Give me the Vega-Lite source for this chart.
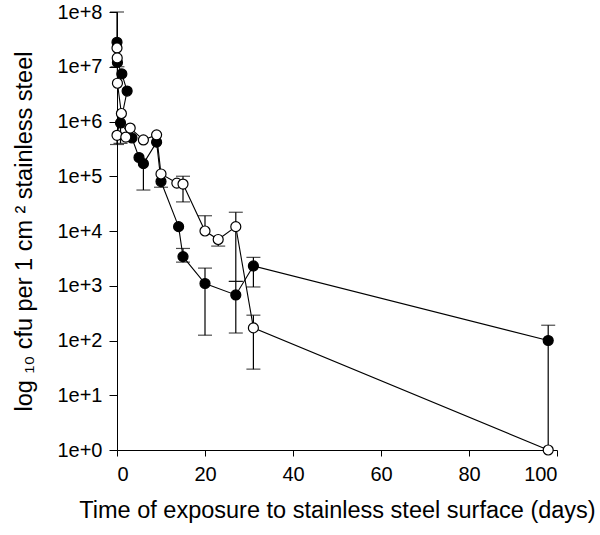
{
  "$schema": "https://vega.github.io/schema/vega-lite/v6.json",
  "autosize": {"type": "none"},
  "padding": {"left": 117, "top": 12, "right": 43, "bottom": 85},
  "width": 440,
  "height": 438,
  "background": "white",
  "config": {
    "font": "Liberation Sans",
    "view": {"stroke": null},
    "axis": {
      "grid": false,
      "domainColor": "black",
      "tickColor": "black",
      "labelColor": "black",
      "titleColor": "black",
      "labelFontSize": 20,
      "titleFontSize": 23.5,
      "titleFontWeight": "normal",
      "labelFont": "Liberation Sans",
      "titleFont": "Liberation Sans"
    }
  },
  "data": {
    "values": [
      {"s": "filled", "seq": 1, "d": 0, "v": 28000000, "hi": 100000000},
      {"s": "filled", "seq": 2, "d": 0.1, "v": 12000000, "lo": 10000000},
      {"s": "filled", "seq": 3, "d": 1.1, "v": 7400000},
      {"s": "filled", "seq": 4, "d": 2.3, "v": 3600000},
      {"s": "filled", "seq": 5, "d": 0.8, "v": 940000, "lo": 400000},
      {"s": "filled", "seq": 6, "d": 3.4, "v": 500000},
      {"s": "filled", "seq": 7, "d": 5, "v": 220000},
      {"s": "filled", "seq": 8, "d": 6, "v": 170000, "lo": 56000},
      {"s": "filled", "seq": 9, "d": 9, "v": 420000},
      {"s": "filled", "seq": 10, "d": 10, "v": 80000, "lo": 63000},
      {"s": "filled", "seq": 11, "d": 14, "v": 12000},
      {"s": "filled", "seq": 12, "d": 15, "v": 3400, "hi": 4800, "lo": 2700},
      {"s": "filled", "seq": 13, "d": 20, "v": 1100, "hi": 2100, "lo": 125},
      {"s": "filled", "seq": 14, "d": 27, "v": 680, "hi": 1200, "lo": 137},
      {"s": "filled", "seq": 15, "d": 31, "v": 2300, "hi": 3300, "lo": 950},
      {"s": "filled", "seq": 16, "d": 98, "v": 100, "hi": 190, "lo": 1},
      {"s": "open", "seq": 1, "d": 0, "v": 22000000},
      {"s": "open", "seq": 2, "d": 0.05, "v": 14500000},
      {"s": "open", "seq": 3, "d": 0.1, "v": 5000000},
      {"s": "open", "seq": 4, "d": 1, "v": 1400000},
      {"s": "open", "seq": 5, "d": 0, "v": 560000, "lo": 380000},
      {"s": "open", "seq": 6, "d": 2, "v": 520000},
      {"s": "open", "seq": 7, "d": 3, "v": 760000},
      {"s": "open", "seq": 8, "d": 6, "v": 460000},
      {"s": "open", "seq": 9, "d": 9, "v": 570000},
      {"s": "open", "seq": 10, "d": 10, "v": 110000},
      {"s": "open", "seq": 11, "d": 13.6, "v": 75000},
      {"s": "open", "seq": 12, "d": 15, "v": 72000, "hi": 100000, "lo": 34000},
      {"s": "open", "seq": 13, "d": 20, "v": 10000, "hi": 19000},
      {"s": "open", "seq": 14, "d": 23, "v": 7000, "lo": 5300},
      {"s": "open", "seq": 15, "d": 27, "v": 12000, "hi": 22000, "lo": 1200},
      {"s": "open", "seq": 16, "d": 31, "v": 170, "hi": 290, "lo": 30},
      {"s": "open", "seq": 17, "d": 98, "v": 1}
    ]
  },
  "encoding": {
    "x": {
      "field": "d", "type": "quantitative",
      "scale": {"domain": [0, 100], "nice": false, "zero": false},
      "axis": {
        "values": [0, 20, 40, 60, 80, 100],
        "tickSize": 6,
        "labelPadding": 8,
        "title": "Time of exposure to stainless steel surface (days)",
        "titlePadding": 14
      }
    }
  },
  "layer": [
    {
      "transform": [{"filter": "datum.hi != null"}],
      "mark": {"type": "rule", "color": "black", "strokeWidth": 1.2},
      "encoding": {
        "y": {"field": "v", "type": "quantitative", "scale": {"type": "log", "domain": [1, 100000000], "nice": false}},
        "y2": {"field": "hi"}
      }
    },
    {
      "transform": [{"filter": "datum.lo != null"}],
      "mark": {"type": "rule", "color": "black", "strokeWidth": 1.2},
      "encoding": {
        "y": {"field": "lo", "type": "quantitative"},
        "y2": {"field": "v"}
      }
    },
    {
      "transform": [{"filter": "datum.hi != null"}],
      "mark": {"type": "tick", "color": "black", "orient": "horizontal", "size": 14, "thickness": 1.2},
      "encoding": {"y": {"field": "hi", "type": "quantitative"}}
    },
    {
      "transform": [{"filter": "datum.lo != null && datum.lo > 1"}],
      "mark": {"type": "tick", "color": "black", "orient": "horizontal", "size": 14, "thickness": 1.2},
      "encoding": {"y": {"field": "lo", "type": "quantitative"}}
    },
    {
      "mark": {"type": "line", "color": "black", "strokeWidth": 1.1},
      "encoding": {
        "y": {"field": "v", "type": "quantitative"},
        "detail": {"field": "s"},
        "order": {"field": "seq", "type": "quantitative"}
      }
    },
    {
      "mark": {"type": "point", "filled": true, "size": 100, "stroke": "black", "strokeWidth": 1.2, "opacity": 1, "shape": "circle"},
      "encoding": {
        "y": {
          "field": "v", "type": "quantitative",
          "axis": {
            "values": [1, 10, 100, 1000, 10000, 100000, 1000000, 10000000, 100000000],
            "labelExpr": "'1e+' + round(log(datum.value) / LN10)",
            "tickSize": 8,
            "labelPadding": 7,
            "title": "log ₁₀ cfu per 1 cm ² stainless steel",
            "titlePadding": 20
          }
        },
        "fill": {"field": "s", "type": "nominal", "scale": {"domain": ["filled", "open"], "range": ["black", "white"]}, "legend": null}
      }
    }
  ]
}
